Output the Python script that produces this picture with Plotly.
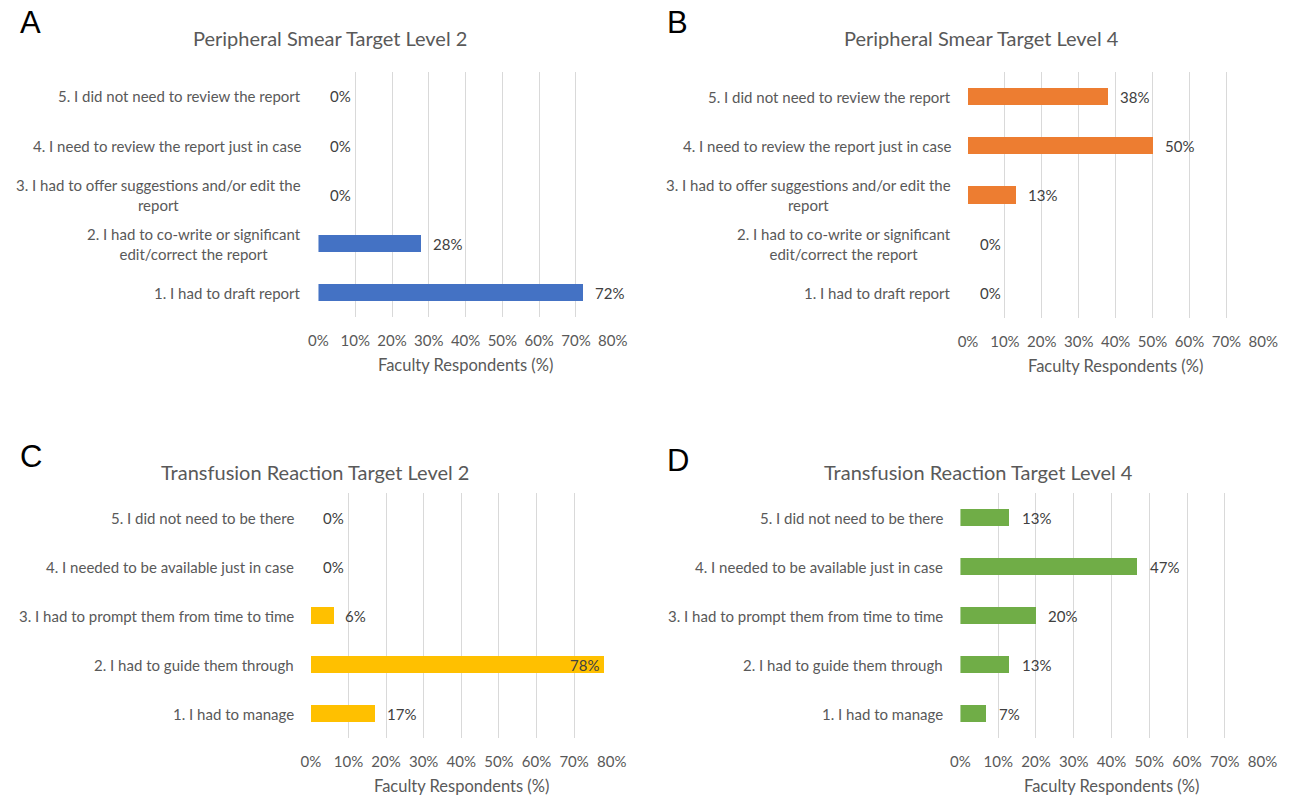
import plotly.graph_objects as go

# Response options (bottom to top: 1 ... 5)
smear_options = [
    "1. I had to draft report",
    "2. I had to co-write or significant<br>edit/correct the report",
    "3. I had to offer suggestions and/or edit the<br>report",
    "4. I need to review the report just in case",
    "5. I did not need to review the report",
]
transfusion_options = [
    "1. I had to manage",
    "2. I had to guide them through",
    "3. I had to prompt them from time to time",
    "4. I needed to be available just in case",
    "5. I did not need to be there",
]

# Faculty respondents (%) per option, same order as the option lists
smear_level2 = [72, 28, 0, 0, 0]
smear_level4 = [0, 0, 13, 50, 38]
transfusion_level2 = [17, 78, 6, 0, 0]
transfusion_level4 = [7, 13, 20, 47, 13]

x_ticks = [0, 10, 20, 30, 40, 50, 60, 70, 80]
x_tick_labels = [f"{t}%" for t in x_ticks]

W, H = 1305, 799

panels = [
    dict(letter="A", title="Peripheral Smear Target Level 2", cats=smear_options,
         vals=smear_level2, color="#4472C4",
         px=(314.5, 614.5), py=(72, 317), title_x=326, title_y=38, letter_xy=(8, 22)),
    dict(letter="B", title="Peripheral Smear Target Level 4", cats=smear_options,
         vals=smear_level4, color="#ED7D31",
         px=(976.7, 1277.8), py=(72, 318), title_x=990, title_y=38, letter_xy=(668, 22)),
    dict(letter="C", title="Transfusion Reaction Target Level 2", cats=transfusion_options,
         vals=transfusion_level2, color="#FFC000",
         px=(306.7, 613.5), py=(493, 738), title_x=311, title_y=472, letter_xy=(8, 456)),
    dict(letter="D", title="Transfusion Reaction Target Level 4", cats=transfusion_options,
         vals=transfusion_level4, color="#70AD47",
         px=(969, 1277), py=(493, 738), title_x=987, title_y=472, letter_xy=(668, 460)),
]

FONT = "Lato"
GREY = "#595959"
VALUE_GREY = "#404040"

fig = go.Figure()
annotations = []

for i, p in enumerate(panels, start=1):
    xa = "x" if i == 1 else f"x{i}"
    ya = "y" if i == 1 else f"y{i}"
    idx = list(range(len(p["cats"])))

    fig.add_trace(go.Bar(
        x=p["vals"], y=idx, orientation="h", xaxis=xa, yaxis=ya,
        marker=dict(color=p["color"], line=dict(width=0)),
        width=0.35, showlegend=False, hoverinfo="x+y",
    ))

    x0, x1 = p["px"]
    y0, y1 = p["py"]
    fig.layout[f"xaxis{'' if i == 1 else i}"] = dict(
        domain=[x0 / W, x1 / W], anchor=ya, range=[0, 80],
        tickmode="array", tickvals=x_ticks, ticktext=x_tick_labels,
        showgrid=True, gridcolor="#D9D9D9",
        gridwidth=1, zeroline=False, showline=False, ticks="",
        ticklabelstandoff=13,
        tickfont=dict(family=FONT, size=15, color=GREY), fixedrange=True,
    )
    fig.layout[f"yaxis{'' if i == 1 else i}"] = dict(
        domain=[1 - y1 / H, 1 - y0 / H], anchor=xa, range=[-0.5, 4.5],
        showticklabels=False, showgrid=False, zeroline=False, showline=False,
        ticks="", fixedrange=True,
    )

    xdom = f"{xa} domain"
    # option labels, centred lines, right edge just left of the plot
    for k, cat in enumerate(p["cats"]):
        annotations.append(dict(
            x=0, y=k, xref=xdom, yref=ya, text=cat, showarrow=False,
            xanchor="right", yanchor="middle", align="center", xshift=-15,
            font=dict(family=FONT, size=15, color=GREY),
        ))
    # value labels
    for k, v in enumerate(p["vals"]):
        inside = v >= 75
        annotations.append(dict(
            x=v, y=k, xref=xa, yref=ya, text=f"{v}%", showarrow=False,
            xanchor="right" if inside else "left", yanchor="middle",
            xshift=-3 if inside else 10,
            font=dict(family=FONT, size=15, color=VALUE_GREY),
        ))
    # axis title
    annotations.append(dict(
        x=(x0 + x1) / 2 / W, y=1 - (y1 + 48) / H, xref="paper", yref="paper",
        text="Faculty Respondents (%)", showarrow=False,
        xanchor="center", yanchor="middle",
        font=dict(family=FONT, size=16.5, color=GREY),
    ))
    # chart title
    annotations.append(dict(
        x=p["title_x"] / W, y=1 - p["title_y"] / H, xref="paper", yref="paper",
        text=p["title"], showarrow=False, xanchor="center", yanchor="middle",
        font=dict(family=FONT, size=20, color=GREY),
    ))
    # panel letter
    lx, ly = p["letter_xy"]
    annotations.append(dict(
        x=lx / W, y=1 - ly / H, xref="paper", yref="paper", text=p["letter"],
        showarrow=False, xanchor="left", yanchor="middle",
        font=dict(family="Liberation Sans", size=31, color="#000000"),
    ))

fig.update_layout(
    width=W, height=H, margin=dict(l=0, r=0, t=0, b=0),
    paper_bgcolor="white", plot_bgcolor="white",
    annotations=annotations, bargap=0,
)

fig.write_html("out.html")
